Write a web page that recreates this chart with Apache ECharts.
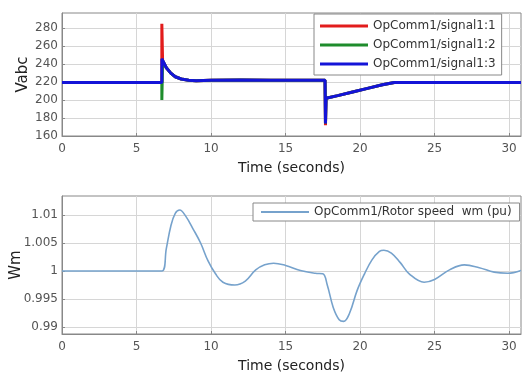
<!DOCTYPE html>
<html><head><meta charset="utf-8">
<script src="https://cdn.jsdelivr.net/npm/echarts@6/dist/echarts.min.js"></script>
<style>html,body{margin:0;padding:0;background:#fff}#c{width:522px;height:376px}</style>
</head><body><div id="c"></div>
<script>
// Top panel: Vabc
var tV = [0, 6.7, 6.7, 6.75, 7.0, 7.3, 7.6, 8.0, 8.5, 9.0, 10, 12, 14, 16, 17.65, 17.68, 17.72, 18.5, 19.5, 20.5, 21.5, 22.3, 25, 30.8];
var sig1 = [219.5, 219.5, 285, 244, 236, 230, 226, 223.5, 222, 221.5, 222, 222.5, 222, 222, 222, 172, 202, 205, 209, 213, 217, 219.5, 219.5, 219.5];
var sig2 = [219.5, 219.5, 200, 244, 236, 230, 226, 223.5, 222, 221.5, 222, 222.5, 222, 222, 222, 174, 202, 205, 209, 213, 217, 219.5, 219.5, 219.5];
var sig3 = [219.5, 219.5, 246, 244, 236, 230, 226, 223.5, 222, 221.5, 222, 222.5, 222, 222, 222, 174, 202, 205, 209, 213, 217, 219.5, 219.5, 219.5];
// Bottom panel: rotor speed
var tW = [0, 6.7, 7.0, 7.3, 7.6, 7.9, 8.3, 8.8, 9.3, 9.8, 10.3, 10.8, 11.6, 12.3, 13.0, 13.6, 14.2, 15, 16, 17, 17.5, 17.8, 18.2, 18.6, 18.9, 19.3, 19.8, 20.3, 20.8, 21.3, 21.6, 22.1, 22.7, 23.3, 24.3, 25, 26, 27, 28, 29, 29.9, 30.8];
var wm = [1.0, 1.0, 1.004, 1.008, 1.0103, 1.0109, 1.0098, 1.0075, 1.005, 1.0018, 0.9995, 0.998, 0.9975, 0.9982, 1.0002, 1.0011, 1.0014, 1.001, 1.0001, 0.9996, 0.9995, 0.9975, 0.9935, 0.9913, 0.991, 0.9925, 0.9965, 0.9995, 1.002, 1.0035, 1.0037, 1.0032, 1.0015, 0.9995, 0.998, 0.9985, 1.0002, 1.0011, 1.0006, 0.9998, 0.9996, 1.0001];
var xTicks = [0, 5, 10, 15, 20, 25, 30];
var vTicks = [160, 180, 200, 220, 240, 260, 280];
var wTicks = [0.99, 0.995, 1, 1.005, 1.01];
var names = ['OpComm1/signal1:1', 'OpComm1/signal1:2', 'OpComm1/signal1:3'];
var wName = 'OpComm1/Rotor speed  wm (pu)';

function pairs(t, v) { return t.map(function (x, i) { return [x, v[i]]; }); }
var FONT = 'DejaVu Sans';
var lbl = { color: '#555', fontFamily: FONT, fontSize: 12 };
var gridLine = { show: true, lineStyle: { color: '#d6d6d6' } };
function xAx(gi) {
  return {
    type: 'value', gridIndex: gi, min: 0, max: 30.8,
    name: 'Time (seconds)', nameLocation: 'middle', nameGap: 25, nameMoveOverlap: false,
    nameTextStyle: { color: '#222', fontFamily: FONT, fontSize: 14 },
    axisLine: { lineStyle: { color: '#888' } },
    axisTick: { inside: true, length: 3, customValues: xTicks, lineStyle: { color: '#888' } },
    axisLabel: Object.assign({ margin: 7, customValues: xTicks }, lbl),
    splitLine: gridLine
  };
}
function yAx(gi, mn, mx, ticks, name, gap, fmt) {
  return {
    type: 'value', gridIndex: gi, min: mn, max: mx,
    name: name, nameLocation: 'middle', nameGap: gap, nameRotate: 90, nameMoveOverlap: false,
    nameTextStyle: { color: '#222', fontFamily: FONT, fontSize: 15 },
    axisLine: { lineStyle: { color: '#888' } },
    axisTick: { inside: true, length: 3, customValues: ticks, lineStyle: { color: '#888' } },
    axisLabel: Object.assign({ margin: 4, customValues: ticks, formatter: fmt }, lbl),
    splitLine: gridLine
  };
}
var option = {
  animation: false,
  backgroundColor: '#fff',
  grid: [
    { left: 62, top: 13, width: 459, height: 123, show: true, borderColor: '#888', borderWidth: 1, backgroundColor: '#fff', containLabel: false, outerBoundsMode: 'none' },
    { left: 62, top: 196, width: 459, height: 138, show: true, borderColor: '#888', borderWidth: 1, backgroundColor: '#fff', containLabel: false, outerBoundsMode: 'none' }
  ],
  xAxis: [xAx(0), xAx(1)],
  yAxis: [
    yAx(0, 160, 297, vTicks, 'Vabc', 31, function (v) { return String(v); }),
    yAx(1, 0.98875, 1.0134, wTicks, 'Wm', 38, function (v) { return String(Math.round(v * 1000) / 1000); })
  ],
  legend: [
    {
      data: names, orient: 'vertical', left: 314, top: 14, padding: [5, 6, 4, 6], itemGap: 5,
      itemWidth: 48, itemHeight: 3, icon: 'rect',
      backgroundColor: '#fff', borderColor: '#888', borderWidth: 1, borderRadius: 0,
      textStyle: { color: '#333', fontFamily: FONT, fontSize: 12, lineHeight: 14 }
    },
    {
      data: [wName], orient: 'vertical', left: 253, top: 203, padding: [2, 8, 2, 8], itemWidth: 48, itemHeight: 2, icon: 'rect',
      backgroundColor: '#fff', borderColor: '#888', borderWidth: 1, borderRadius: 0,
      textStyle: { color: '#333', fontFamily: FONT, fontSize: 12, lineHeight: 14 }
    }
  ],
  series: [
    { name: names[0], type: 'line', xAxisIndex: 0, yAxisIndex: 0, data: pairs(tV, sig1), showSymbol: false, color: '#e21c1c', lineStyle: { width: 3, color: '#e21c1c' } },
    { name: names[1], type: 'line', xAxisIndex: 0, yAxisIndex: 0, data: pairs(tV, sig2), showSymbol: false, color: '#1e8c2c', lineStyle: { width: 3, color: '#1e8c2c' } },
    { name: names[2], type: 'line', xAxisIndex: 0, yAxisIndex: 0, data: pairs(tV, sig3), showSymbol: false, color: '#1414d8', lineStyle: { width: 3, color: '#1414d8' } },
    { name: wName, type: 'line', xAxisIndex: 1, yAxisIndex: 1, data: pairs(tW, wm), showSymbol: false, smooth: 0.4, color: '#76a2cc', lineStyle: { width: 1.6, color: '#76a2cc' } }
  ]
};
var chart = echarts.init(document.getElementById('c'), null, { renderer: 'canvas' });
chart.setOption(option);
</script></body></html>
